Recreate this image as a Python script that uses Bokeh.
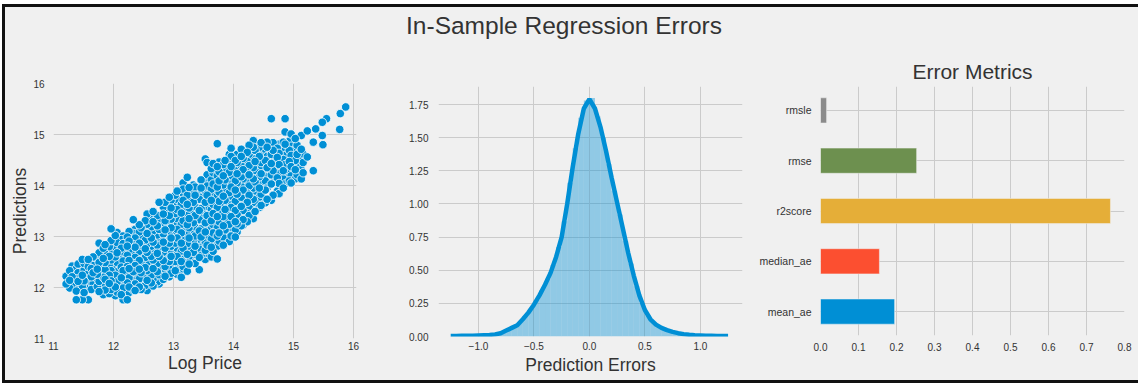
from math import gcd
from bokeh.plotting import figure
from bokeh.layouts import column, row
from bokeh.models import Range1d, FixedTicker, NumeralTickFormatter
from bokeh.core.properties import value
from bokeh.embed import file_html
from bokeh.resources import INLINE
import numpy as np

# ---------------- data ----------------
# Scatter: log price (x) -> list of predictions (y)
log_price_cols = [
    11.21, 11.27, 11.31, 11.38, 11.41, 11.48, 11.51, 11.58, 11.63, 11.66,
    11.73, 11.76, 11.83, 11.86, 11.93, 11.96, 12.03, 12.06, 12.13, 12.16,
    12.23, 12.26, 12.33, 12.36, 12.43, 12.46, 12.53, 12.56, 12.63, 12.66,
    12.73, 12.76, 12.83, 12.86, 12.93, 12.96, 13.03, 13.06, 13.13, 13.16,
    13.23, 13.26, 13.33, 13.36, 13.43, 13.46, 13.53, 13.56, 13.63, 13.66,
    13.73, 13.76, 13.83, 13.86, 13.93, 13.96, 14.03, 14.06, 14.13, 14.16,
    14.23, 14.26, 14.33, 14.36, 14.43, 14.46, 14.53, 14.56, 14.63, 14.66,
    14.73, 14.76, 14.83, 14.86, 14.93, 14.96, 15.03, 15.06, 15.13, 15.16,
    15.23, 15.33, 15.37, 15.48, 15.49, 15.55, 15.77, 15.78, 15.87,
]
predictions_cols = [
    [12.22, 12.07],
    [12.33, 12.14, 11.99],
    [12.42, 12.21, 12.06],
    [11.76, 12.17, 12.37, 11.93],
    [12.29, 12.12, 12.46, 12.00],
    [12.55, 11.76, 12.24, 12.03, 12.39],
    [12.13, 12.34, 11.90, 12.47],
    [11.76, 12.55, 12.27, 12.05, 12.41],
    [12.10, 12.37, 11.96, 12.51, 12.21],
    [12.07, 12.29, 12.43, 11.99, 12.60],
    [12.17, 12.36, 12.02, 12.55, 12.26],
    [12.87, 11.92, 12.12, 12.30, 12.49, 12.68],
    [12.04, 12.20, 12.43, 12.57, 12.77, 11.86],
    [12.16, 12.35, 11.95, 12.49, 12.66, 12.84],
    [11.88, 12.08, 12.24, 12.45, 12.61, 12.80],
    [13.15, 12.13, 12.33, 11.96, 12.54, 12.71, 12.92],
    [11.84, 12.01, 12.24, 12.39, 12.60, 12.79, 13.02],
    [12.11, 12.31, 11.91, 12.49, 12.68, 12.88, 13.08],
    [11.86, 12.06, 12.19, 12.40, 12.54, 12.77, 12.94],
    [11.76, 11.99, 12.14, 12.33, 12.52, 12.66, 12.86, 13.01],
    [11.76, 12.09, 12.27, 12.41, 12.63, 12.81, 12.99],
    [11.90, 12.01, 12.19, 12.37, 12.53, 12.74, 12.91, 13.10],
    [13.33, 11.95, 12.13, 12.31, 12.47, 12.67, 12.84, 13.06],
    [11.94, 12.07, 12.26, 12.43, 12.59, 12.79, 12.97, 13.14],
    [12.01, 12.17, 12.36, 12.53, 12.71, 12.87, 13.09, 13.23],
    [11.96, 12.11, 12.29, 12.47, 12.63, 12.83, 13.01, 13.17],
    [12.04, 12.23, 12.39, 12.59, 12.76, 12.93, 13.13, 13.31],
    [11.94, 12.14, 12.33, 12.49, 12.69, 12.85, 13.06, 13.24, 13.44],
    [12.09, 12.24, 12.45, 12.61, 12.81, 12.97, 13.19, 13.37],
    [12.03, 12.17, 12.37, 12.54, 12.73, 12.89, 13.11, 13.29, 13.49],
    [12.11, 12.31, 12.47, 12.67, 12.83, 13.03, 13.21, 13.41],
    [12.07, 12.25, 12.41, 12.61, 12.77, 12.97, 13.14, 13.35, 13.67],
    [12.16, 12.33, 12.53, 12.69, 12.89, 13.05, 13.26, 13.44, 13.58],
    [12.22, 12.41, 12.57, 12.77, 12.93, 13.13, 13.31, 13.51, 13.67],
    [12.37, 12.21, 12.51, 12.67, 12.87, 13.03, 13.23, 13.41, 13.63, 13.77],
    [12.28, 12.46, 12.61, 12.81, 12.97, 13.17, 13.34, 13.56, 13.71],
    [12.33, 12.51, 12.71, 12.87, 13.07, 13.24, 13.45, 13.61, 13.81],
    [12.26, 12.41, 12.61, 12.77, 12.97, 13.14, 13.35, 13.53, 13.73, 13.89],
    [12.20, 12.36, 12.51, 12.71, 12.87, 13.07, 13.24, 13.46, 13.63, 13.86],
    [12.41, 12.57, 12.77, 12.93, 13.13, 13.31, 13.53, 13.71, 13.93, 14.05],
    [12.32, 12.49, 12.65, 12.86, 13.03, 13.23, 13.41, 13.63, 13.81, 14.16],
    [12.46, 12.61, 12.81, 12.97, 13.17, 13.35, 13.56, 13.74, 13.96],
    [12.51, 12.69, 12.89, 13.05, 13.27, 13.45, 13.67, 13.85, 14.01],
    [12.47, 12.65, 12.81, 13.01, 13.19, 13.41, 13.59, 13.81, 13.97],
    [12.35, 12.59, 12.75, 12.95, 13.11, 13.33, 13.51, 13.73, 13.91],
    [12.63, 12.79, 12.99, 13.15, 13.37, 13.55, 13.77, 13.95, 14.11],
    [12.55, 12.73, 12.89, 13.09, 13.27, 13.49, 13.67, 13.89, 14.07, 14.52],
    [12.67, 12.83, 13.03, 13.19, 13.41, 13.59, 13.81, 13.99, 14.21, 14.45],
    [12.60, 12.79, 12.95, 13.15, 13.31, 13.53, 13.71, 13.93, 14.11, 14.33],
    [12.71, 12.87, 13.07, 13.23, 13.45, 13.63, 13.85, 14.03, 14.25, 14.43],
    [12.56, 12.81, 13.01, 13.17, 13.39, 13.57, 13.79, 13.97, 14.19, 14.37, 14.82],
    [12.91, 13.07, 13.29, 13.47, 13.69, 13.87, 14.09, 14.27, 14.46],
    [12.83, 12.99, 13.21, 13.39, 13.61, 13.79, 14.01, 14.19, 14.41],
    [12.95, 13.13, 13.31, 13.53, 13.71, 13.93, 14.11, 14.33, 14.49],
    [12.90, 13.07, 13.24, 13.46, 13.64, 13.86, 14.04, 14.26, 14.44, 14.61],
    [13.01, 13.17, 13.39, 13.57, 13.79, 13.97, 14.19, 14.37, 14.57, 14.73],
    [12.99, 13.13, 13.29, 13.51, 13.69, 13.91, 14.09, 14.31, 14.49],
    [13.09, 13.25, 13.43, 13.65, 13.83, 14.05, 14.23, 14.45, 14.61],
    [13.21, 13.37, 13.59, 13.77, 13.99, 14.17, 14.39, 14.57, 14.71],
    [13.22, 13.33, 13.51, 13.73, 13.91, 14.13, 14.31, 14.53, 14.67],
    [13.29, 13.45, 13.67, 13.85, 14.07, 14.25, 14.47, 14.65],
    [13.41, 13.59, 13.81, 13.99, 14.21, 14.39, 14.61, 14.79],
    [13.35, 13.55, 13.73, 13.95, 14.13, 14.35, 14.53, 14.75, 14.88],
    [13.49, 13.67, 13.89, 14.07, 14.29, 14.47, 14.69, 14.81],
    [13.57, 13.77, 13.95, 14.17, 14.35, 14.57, 14.75],
    [13.61, 13.83, 14.05, 14.23, 14.45, 14.63, 14.84],
    [13.66, 13.91, 14.09, 14.31, 14.49, 14.71],
    [13.73, 13.95, 14.17, 14.35, 14.57, 14.75, 14.85],
    [13.71, 14.03, 14.21, 14.43, 14.61, 14.83, 15.31],
    [13.81, 14.07, 14.29, 14.47, 14.69, 14.84],
    [13.89, 14.15, 14.33, 14.55, 14.73],
    [13.84, 14.04, 14.23, 14.41, 14.63, 14.81],
    [13.95, 14.13, 14.29, 14.51, 14.69, 14.85],
    [14.03, 14.19, 14.41, 14.59, 14.81, 15.05, 15.31],
    [14.09, 14.29, 14.47, 14.69, 14.87],
    [14.05, 14.19, 14.37, 14.59, 14.77, 15.01],
    [14.13, 14.31, 14.49, 14.71, 14.92],
    [14.21, 14.39, 14.61, 14.79],
    [14.13, 14.31, 14.49, 14.71, 14.98],
    [14.25, 14.45, 14.62],
    [14.56, 15.07],
    [14.29, 14.85],
    [15.11],
    [15.24, 14.98],
    [14.80],
    [15.31],
    [15.10],
    [15.41],
    [15.54],
]

# Histogram of prediction errors (density per 0.05-wide bin)
hist_density = [
    0.004, 0.004, 0.005, 0.006, 0.007, 0.009, 0.011, 0.014, 0.020, 0.035,
    0.060, 0.080, 0.110, 0.155, 0.210, 0.275, 0.350, 0.435, 0.540, 0.675,
    0.870, 1.160, 1.420, 1.650, 1.780, 1.800, 1.660, 1.500, 1.300, 1.100,
    0.920, 0.720, 0.550, 0.380, 0.250, 0.160, 0.110, 0.080, 0.055, 0.040,
    0.030, 0.022, 0.016, 0.012, 0.009, 0.007, 0.005, 0.004, 0.003, 0.003,
]
hist_edges = np.round(np.linspace(-1.25, 1.25, len(hist_density) + 1), 3)

# KDE curve of prediction errors
kde_density = [
    0.004, 0.004, 0.005, 0.005, 0.006, 0.008, 0.010, 0.012, 0.016, 0.025,
    0.045, 0.065, 0.085, 0.130, 0.180, 0.240, 0.310, 0.390, 0.480, 0.600,
    0.750, 1.000, 1.280, 1.530, 1.720, 1.790, 1.720, 1.580, 1.400, 1.200,
    1.010, 0.820, 0.630, 0.460, 0.310, 0.200, 0.130, 0.090, 0.065, 0.048,
    0.035, 0.025, 0.018, 0.013, 0.010, 0.008, 0.006, 0.005, 0.004, 0.003,
    0.003,
]
kde_errors = np.round(np.linspace(-1.25, 1.25, len(kde_density)), 3)

# Error metrics (bottom to top)
metric_names = ["mean_ae", "median_ae", "r2score", "rmse", "rmsle"]
metric_values = [0.195, 0.155, 0.763, 0.253, 0.016]
metric_colors = ["#008fd5", "#fc4f30", "#e5ae38", "#6d904f", "#8b8b8b"]

scatter_ticks = [11, 12, 13, 14, 15, 16]
error_ticks = [-1.0, -0.5, 0.0, 0.5, 1.0]
error_tick_labels = ["\u22121.0", "\u22120.5", "0.0", "0.5", "1.0"]
density_ticks = [0.0, 0.25, 0.5, 0.75, 1.0, 1.25, 1.5, 1.75]
metric_ticks = [0.0, 0.1, 0.2, 0.3, 0.4, 0.5, 0.6, 0.7, 0.8]

log_price = [x for x, ys in zip(log_price_cols, predictions_cols) for _ in ys]
predictions = [y for ys in predictions_cols for y in ys]

# draw points in an interleaved (non-spatial) order, like unsorted data
n_pts = len(log_price)
stride = next(s for s in (97, 101, 103, 107, 109) if gcd(s, n_pts) == 1)
order = [(i * stride) % n_pts for i in range(n_pts)]
log_price = [log_price[i] for i in order]
predictions = [predictions[i] for i in order]

# ---------------- style ----------------
BG = "#f0f0f0"
FONT = "Liberation Sans"
TXT = "#333333"
GRID = "#cbcbcb"
BLUE = "#008fd5"


def style(p):
    p.background_fill_color = BG
    p.border_fill_color = BG
    p.outline_line_color = None
    for ax in p.axis:
        ax.axis_line_color = None
        ax.major_tick_line_color = None
        ax.minor_tick_line_color = None
        ax.major_tick_out = 0
        ax.major_tick_in = 0
        ax.minor_tick_out = 0
        ax.minor_tick_in = 0
        ax.major_label_text_font = FONT
        ax.major_label_text_font_size = "10px"
        ax.major_label_text_color = TXT
        ax.axis_label_text_font = FONT
        ax.axis_label_text_font_size = "17.5px"
        ax.axis_label_text_font_style = "normal"
        ax.axis_label_text_color = TXT
    for g in p.grid:
        g.grid_line_color = GRID
        g.grid_line_width = 1


# ---------------- title strip ----------------
pt = figure(width=1133, height=43, x_range=Range1d(0, 1133), y_range=Range1d(0, 43),
            x_axis_type=None, y_axis_type=None, output_backend="svg",
            toolbar_location=None, min_border=0)
pt.background_fill_color = BG
pt.border_fill_color = BG
pt.outline_line_color = None
pt.text(x=[558.5], y=[25], text=["In-Sample Regression Errors"],
        text_align="center", text_baseline="middle", text_font=value(FONT),
        text_font_size="24.5px", text_color=TXT)

# ---------------- scatter ----------------
p1 = figure(width=380, height=330, x_range=Range1d(11, 16.05), y_range=Range1d(11, 16),
            output_backend="svg", toolbar_location=None,
            min_border_left=48, min_border_right=29, min_border_top=33, min_border_bottom=42)
p1.scatter(log_price, predictions, size=8.5, fill_color=BLUE, line_color="white",
           line_width=0.8)
style(p1)
p1.xaxis.ticker = FixedTicker(ticks=scatter_ticks)
p1.yaxis.ticker = FixedTicker(ticks=scatter_ticks)
p1.xgrid.ticker = FixedTicker(ticks=scatter_ticks[1:])
p1.ygrid.ticker = FixedTicker(ticks=scatter_ticks[1:-1])
p1.xaxis.axis_label = "Log Price"
p1.yaxis.axis_label = "Predictions"
p1.xaxis.major_label_standoff = 3
p1.yaxis.major_label_standoff = 9
p1.xaxis.axis_label_standoff = 0
p1.yaxis.axis_label_standoff = 0

# ---------------- histogram + kde ----------------
p2 = figure(width=370, height=330, x_range=Range1d(-1.36, 1.38), y_range=Range1d(0, 1.886),
            output_backend="svg", toolbar_location=None,
            min_border_left=53, min_border_right=13, min_border_top=36, min_border_bottom=44)
p2.quad(left=hist_edges[:-1], right=hist_edges[1:], bottom=0, top=hist_density,
        fill_color=BLUE, fill_alpha=0.4, line_color=None)
p2.line(kde_errors, kde_density, line_color=BLUE, line_width=4.5)
style(p2)
p2.xaxis.ticker = FixedTicker(ticks=error_ticks)
p2.xaxis.major_label_overrides = {t: l for t, l in zip(error_ticks, error_tick_labels)}
p2.yaxis.ticker = FixedTicker(ticks=density_ticks)
p2.yaxis.formatter = NumeralTickFormatter(format="0.00")
p2.xgrid.ticker = FixedTicker(ticks=error_ticks)
p2.ygrid.ticker = FixedTicker(ticks=density_ticks)
p2.xaxis.axis_label = "Prediction Errors"
p2.xaxis.major_label_standoff = 5
p2.yaxis.major_label_standoff = 10
p2.xaxis.axis_label_standoff = 2

# ---------------- error metrics ----------------
p3 = figure(width=383, height=330, x_range=Range1d(0, 0.8), y_range=Range1d(-0.475, 4.475),
            output_backend="svg", toolbar_location=None,
            min_border_left=65, min_border_right=14, min_border_top=36, min_border_bottom=45)
p3.hbar(y=list(range(len(metric_names))), left=0, right=metric_values, height=0.5,
        fill_color=metric_colors, line_color=BG, line_width=0.5)
style(p3)
p3.title.text = "Error Metrics"
p3.title.text_font = FONT
p3.title.text_font_size = "21px"
p3.title.text_font_style = "normal"
p3.title.text_color = TXT
p3.title.align = "center"
p3.title.standoff = 8
p3.xaxis.ticker = FixedTicker(ticks=metric_ticks)
p3.xaxis.formatter = NumeralTickFormatter(format="0.0")
p3.yaxis.ticker = FixedTicker(ticks=list(range(len(metric_names))))
p3.yaxis.major_label_overrides = {i: n for i, n in enumerate(metric_names)}
p3.yaxis.major_label_text_font_size = "10.5px"
p3.xgrid.ticker = FixedTicker(ticks=metric_ticks[1:-1])
p3.ygrid.ticker = FixedTicker(ticks=list(range(len(metric_names))))
p3.xaxis.major_label_standoff = 7
p3.yaxis.major_label_standoff = 9

layout = column(
    pt, row(column(p1), column(p2), column(p3)),
    styles={
        "margin-left": "2px", "margin-top": "4px",
        "border-left": "3px solid #111111",
        "border-top": "3px solid #111111",
        "border-bottom": "3px solid #111111",
        "background-color": BG,
    },
)

open("out.html", "w").write(file_html(layout, INLINE))
